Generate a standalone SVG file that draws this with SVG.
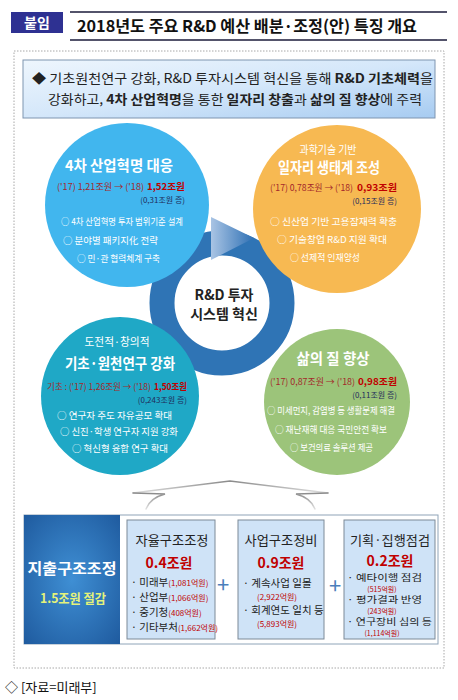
<svg xmlns="http://www.w3.org/2000/svg" width="458" height="700" viewBox="0 0 458 700">
<defs>
<style>
text{font-family:"Noto Sans CJK KR","Liberation Sans",sans-serif;}
.t15{font-size:15px;font-weight:bold;fill:#fff;}
.t11{font-size:11px;fill:#fff;}
.num{font-size:9px;fill:#a3282a;}
.numb{font-size:9.5px;font-weight:bold;fill:#c00000;}
.inc{font-size:8px;fill:#1f2d5a;}
.bul{font-size:9.5px;fill:#fff;}
.bx{fill:#cfe3f7;stroke:#7d8a97;stroke-width:1;}
.bt{font-size:13px;fill:#222;text-anchor:middle;}
.amt{font-size:14px;font-weight:bold;fill:#c00000;text-anchor:middle;}
.it{font-size:10.5px;fill:#222;}
.it3{font-size:9px;fill:#222;}
.sm{font-size:8px;fill:#c00000;}
.sm3{font-size:7px;fill:#c00000;text-anchor:middle;}
.plus{font-size:22px;fill:#4a7ebb;text-anchor:middle;}
</style>
<linearGradient id="intro" x1="0" y1="0" x2="1" y2="1">
<stop offset="0" stop-color="#eef6fd"/>
<stop offset="0.5" stop-color="#d4e7fa"/>
<stop offset="1" stop-color="#a6cbf1"/>
</linearGradient>
<linearGradient id="arrowg" x1="0" y1="0" x2="1" y2="0">
<stop offset="0" stop-color="#a9c4e4"/>
<stop offset="1" stop-color="#2e70b4"/>
</linearGradient>
<radialGradient id="leftg" cx="0.5" cy="0.5" r="0.7">
<stop offset="0" stop-color="#3f8fd4"/>
<stop offset="1" stop-color="#1f5b9f"/>
</radialGradient>
<linearGradient id="chev" x1="0" y1="0" x2="0" y2="1">
<stop offset="0" stop-color="#8a8a8a"/>
<stop offset="1" stop-color="#e0e0e0"/>
</linearGradient>
</defs>
<rect width="458" height="700" fill="#fff"/>

<g id="header">
<rect x="11" y="12" width="52" height="21" fill="#2e3192"/>
<text x="37" y="28" text-anchor="middle" font-size="14" font-weight="bold" fill="#fff">붙임</text>
<line x1="70" y1="12" x2="447" y2="12" stroke="#1a1a3a" stroke-width="1.5"/>
<line x1="70" y1="40" x2="447" y2="40" stroke="#1a1a3a" stroke-width="1.5"/>
<text x="77" y="32" font-size="16" font-weight="bold" fill="#111" textLength="340" lengthAdjust="spacingAndGlyphs">2018년도 주요 R&amp;D 예산 배분·조정(안) 특징 개요</text>
</g>

<rect id="frame" x="14" y="51" width="430" height="617" fill="none" stroke="#a8a8a8" stroke-width="1" stroke-dasharray="1.5,1.5"/>

<g id="intro">
<rect x="23" y="60" width="412" height="58" fill="url(#intro)" stroke="#7f95b0" stroke-width="1"/>
<text x="32" y="83" font-size="13" fill="#222" textLength="401" lengthAdjust="spacingAndGlyphs">◆ 기초원천연구 강화, R&amp;D 투자시스템 혁신을 통해 <tspan font-weight="bold">R&amp;D 기초체력</tspan>을</text>
<text x="48" y="104" font-size="13" fill="#222" textLength="374" lengthAdjust="spacingAndGlyphs">강화하고, <tspan font-weight="bold">4차 산업혁명</tspan>을 통한 <tspan font-weight="bold">일자리 창출</tspan>과 <tspan font-weight="bold">삶의 질 향상</tspan>에 주력</text>
</g>

<g id="ring">
<circle cx="222" cy="303" r="60" fill="#fff" stroke="#2f74b5" stroke-width="25"/>
<polygon points="211,217 254,238 211,260" fill="url(#arrowg)"/>
<text x="224" y="300" text-anchor="middle" font-size="14" font-weight="bold" fill="#222">R&amp;D 투자</text>
<text x="224" y="319" text-anchor="middle" font-size="14" font-weight="bold" fill="#222">시스템 혁신</text>
</g>

<g id="c1">
<circle cx="127" cy="205" r="82" fill="#41b6ee"/>
<text class="t15" x="65" y="171" textLength="108" lengthAdjust="spacingAndGlyphs">4차 산업혁명 대응</text>
<text class="num" x="57" y="190" textLength="87" lengthAdjust="spacingAndGlyphs">('17) 1,21조원 → ('18)</text>
<text class="numb" x="147" y="190" textLength="38" lengthAdjust="spacingAndGlyphs">1,52조원</text>
<text class="inc" x="185" y="203" text-anchor="end">(0,31조원 증)</text>
<text class="bul" x="61" y="225" textLength="122" lengthAdjust="spacingAndGlyphs">○ 4차 산업혁명 투자 범위기준 설계</text>
<text class="bul" x="63" y="244" textLength="95" lengthAdjust="spacingAndGlyphs">○ 분야별 패키지化 전략</text>
<text class="bul" x="77" y="262" textLength="83" lengthAdjust="spacingAndGlyphs">○ 민·관 협력체계 구축</text>
</g>

<g id="c2">
<circle cx="337" cy="209" r="84" fill="#f7b952"/>
<text class="t11" x="328" y="154" text-anchor="middle" textLength="57" lengthAdjust="spacingAndGlyphs">과학기술 기반</text>
<text class="t15" x="329" y="173" text-anchor="middle" textLength="102" lengthAdjust="spacingAndGlyphs">일자리 생태계 조성</text>
<text class="num" x="270" y="191" textLength="83" lengthAdjust="spacingAndGlyphs">('17) 0,78조원 → ('18)</text>
<text class="numb" x="357" y="191" textLength="40" lengthAdjust="spacingAndGlyphs">0,93조원</text>
<text class="inc" x="397" y="204" text-anchor="end">(0,15조원 증)</text>
<text class="bul" x="270" y="225" textLength="127" lengthAdjust="spacingAndGlyphs">○ 신산업 기반 고용잠재력 확충</text>
<text class="bul" x="277" y="243" textLength="110" lengthAdjust="spacingAndGlyphs">○ 기술창업 R&amp;D 지원 확대</text>
<text class="bul" x="290" y="261" textLength="70" lengthAdjust="spacingAndGlyphs">○ 선제적 인재양성</text>
</g>

<g id="c3">
<circle cx="120" cy="396" r="79" fill="#1fa8c6"/>
<text class="t11" x="117" y="346" text-anchor="middle" textLength="65" lengthAdjust="spacingAndGlyphs">도전적·창의적</text>
<text class="t15" x="120" y="369" text-anchor="middle" textLength="110" lengthAdjust="spacingAndGlyphs">기초·원천연구 강화</text>
<text class="num" x="47" y="390" font-size="8.5" textLength="104" lengthAdjust="spacingAndGlyphs">기초 : ('17) 1,26조원 → ('18)</text>
<text class="numb" x="154" y="390" font-size="9" textLength="33" lengthAdjust="spacingAndGlyphs">1,50조원</text>
<text class="inc" x="187" y="403" text-anchor="end">(0,243조원 증)</text>
<text class="bul" x="57" y="419" textLength="115" lengthAdjust="spacingAndGlyphs">○ 연구자 주도 자유공모 확대</text>
<text class="bul" x="60" y="435" textLength="118" lengthAdjust="spacingAndGlyphs">○ 신진·학생 연구자 지원 강화</text>
<text class="bul" x="72" y="452" textLength="96" lengthAdjust="spacingAndGlyphs">○ 혁신형 융합 연구 확대</text>
</g>

<g id="c4">
<circle cx="337" cy="402" r="73" fill="#9cc47a"/>
<text class="t15" x="333" y="364" text-anchor="middle" textLength="73" lengthAdjust="spacingAndGlyphs">삶의 질 향상</text>
<text class="num" x="270" y="385" textLength="85" lengthAdjust="spacingAndGlyphs">('17) 0,87조원 → ('18)</text>
<text class="numb" x="358" y="385" textLength="39" lengthAdjust="spacingAndGlyphs">0,98조원</text>
<text class="inc" x="397" y="398" text-anchor="end">(0,11조원 증)</text>
<text class="bul" x="267" y="414" font-size="9" textLength="128" lengthAdjust="spacingAndGlyphs">○ 미세먼지, 감염병 등 생활문제 해결</text>
<text class="bul" x="275" y="433" textLength="112" lengthAdjust="spacingAndGlyphs">○ 재난재해 대응 국민안전 확보</text>
<text class="bul" x="290" y="451" textLength="83" lengthAdjust="spacingAndGlyphs">○ 보건의료 솔루션 제공</text>
</g>

<g id="connectors" fill="none" stroke="url(#chev)" stroke-width="1.5" stroke-linecap="round">
<path d="M133,493 L230,481 L328,493"/>
<path d="M133,493 L165,494 Q150,498 146,509"/>
<path d="M328,493 L296,494 Q311,498 315,509"/>
</g>

<g id="bottom">
<rect x="24" y="515" width="414" height="129" fill="#fff" stroke="#8fa4b8" stroke-width="1"/>
<rect x="24" y="515" width="96" height="129" fill="url(#leftg)"/>
<text x="72" y="574" text-anchor="middle" font-size="15" font-weight="bold" fill="#fff" textLength="89" lengthAdjust="spacingAndGlyphs">지출구조조정</text>
<text x="73" y="603" text-anchor="middle" font-size="13" font-weight="bold" fill="#e4f27a" textLength="66" lengthAdjust="spacingAndGlyphs">1.5조원 절감</text>
</g>

<g id="box1">
<rect class="bx" x="127" y="520" width="88" height="119"/>
<text class="bt" x="172" y="545" textLength="73" lengthAdjust="spacingAndGlyphs">자율구조조정</text>
<text class="amt" x="169" y="568">0.4조원</text>
<text class="it" x="131" y="586">· 미래부<tspan class="sm">(1,081억원)</tspan></text>
<text class="it" x="131" y="601">· 산업부<tspan class="sm">(1,066억원)</tspan></text>
<text class="it" x="131" y="616">· 중기청<tspan class="sm">(408억원)</tspan></text>
<text class="it" x="131" y="631">· 기타부처<tspan class="sm">(1,662억원)</tspan></text>
</g>

<text class="plus" x="223" y="593">+</text>

<g id="box2">
<rect class="bx" x="238" y="520" width="86" height="119"/>
<text class="bt" x="281" y="545" textLength="73" lengthAdjust="spacingAndGlyphs">사업구조정비</text>
<text class="amt" x="281" y="568">0.9조원</text>
<text class="it" x="243" y="587">· 계속사업 일몰</text>
<text class="sm" x="277" y="600" text-anchor="middle">(2,922억원)</text>
<text class="it" x="243" y="614">· 회계연도 일치 등</text>
<text class="sm" x="277" y="627" text-anchor="middle">(5,893억원)</text>
</g>

<text class="plus" x="335" y="594">+</text>

<g id="box3">
<rect class="bx" x="344" y="520" width="91" height="119"/>
<text class="bt" x="390" y="545" textLength="80" lengthAdjust="spacingAndGlyphs">기획·집행점검</text>
<text class="amt" x="390" y="566">0.2조원</text>
<text class="it3" x="347" y="581" textLength="75" lengthAdjust="spacingAndGlyphs">· 예타이행 점검</text>
<text class="sm3" x="382" y="591.5">(515억원)</text>
<text class="it3" x="347" y="603" textLength="75" lengthAdjust="spacingAndGlyphs">· 평가결과 반영</text>
<text class="sm3" x="382" y="613.5">(243억원)</text>
<text class="it3" x="347" y="625" textLength="85" lengthAdjust="spacingAndGlyphs">· 연구장비 심의 등</text>
<text class="sm3" x="382" y="635.5">(1,114억원)</text>
</g>

<text id="footer" x="5" y="692" font-size="13" fill="#111">◇ [자료=미래부]</text>
</svg>
